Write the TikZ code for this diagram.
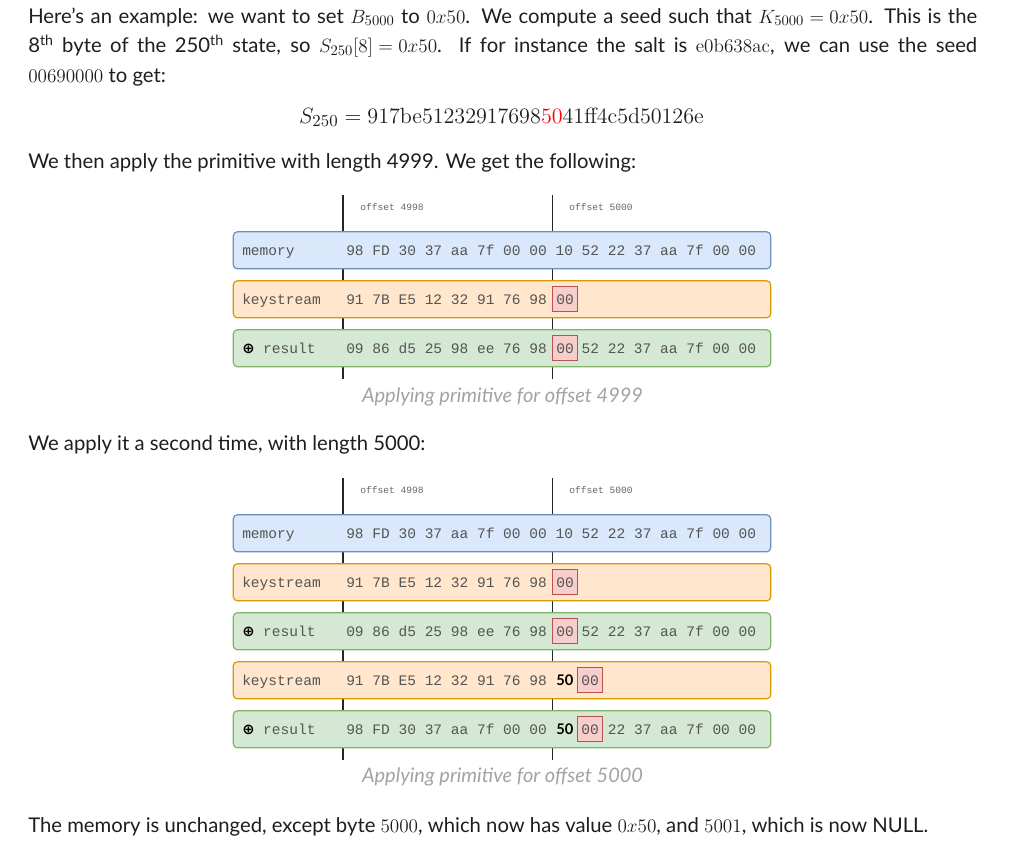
\documentclass[tikz,border=0pt]{standalone}
\usepackage[no-math]{fontspec}
\setmainfont{Lato}
\newfontfamily\hexfont{Liberation Mono}
\newfontfamily\symfont{DejaVu Sans}
\usepackage{xcolor}
\usepackage{tikz}
\definecolor{memfill}{HTML}{DAE8FC}
\definecolor{memline}{HTML}{6C8EBF}
\definecolor{keyfill}{HTML}{FFE6CC}
\definecolor{keyline}{HTML}{D79B00}
\definecolor{resfill}{HTML}{D5E8D4}
\definecolor{resline}{HTML}{82B366}
\definecolor{zerofill}{HTML}{F8CECC}
\definecolor{zeroline}{HTML}{B85450}
\definecolor{inktext}{HTML}{1E1E1E}
\definecolor{hexgray}{HTML}{555555}
\definecolor{capgray}{HTML}{A3A3A3}

\begin{document}
\begin{tikzpicture}[x=0.75pt, y=-0.75pt,
  membox/.style={rectangle, rounded corners=3pt, draw=memline, fill=memfill, line width=0.9pt, minimum width=403pt, minimum height=27.75pt, inner sep=0pt},
  keybox/.style={membox, draw=keyline, fill=keyfill},
  resbox/.style={membox, draw=resline, fill=resfill},
  zerobox/.style={rectangle, draw=zeroline, fill=zerofill, line width=0.8pt, minimum size=18.75pt, inner sep=0pt, font=\hexfont\fontsize{10.9}{12}\selectfont, text=hexgray},
  hex/.style={anchor=base west, inner sep=0pt, font=\hexfont\fontsize{10.9}{12}\selectfont, text=hexgray},
  boldhex/.style={anchor=base west, inner sep=0pt, font=\bfseries\fontsize{11}{12}\selectfont, text=black},
  offs/.style={anchor=west, inner sep=0pt, font=\hexfont\fontsize{7.2}{9}\selectfont, text=black!60},
  bar/.style={line width=1.1pt, draw=black!85},
  para/.style={anchor=base west, inner sep=0pt, font=\fontsize{15.2}{18}\selectfont, text=inktext},
  caption/.style={anchor=base, inner sep=0pt, font=\itshape\fontsize{15}{18}\selectfont, text=capgray}]
\fill[white] (0,0) rectangle (1032,850);
\useasboundingbox (0,0) rectangle (1032,850);

% Text above the first picture
\node[para] (intro1) at (28,23) {\makebox[711.75pt][s]{Here's an example: we want to set \mbox{$B_{5000}$} to \mbox{$0x50$}. We compute a seed such that \mbox{$K_{5000} = 0x50$}. This is the}};
\node[para] (intro2) at (28,52.5) {\makebox[711.75pt][s]{8\textsuperscript{th} byte of the 250\textsuperscript{th} state, so \mbox{$S_{250}[8] = 0x50$}. If for instance the salt is \mbox{$\mathrm{e0b638ac}$}, we can use the seed}};
\node[para] (intro3) at (28,82) {$\mathrm{00690000}$ to get:};
\node[para, anchor=base, scale=1.15] (state) at (501.5,123) {$S_{250} = \mathrm{917be51232917698}{\color{red}\mathrm{50}}\mathrm{41ff4c5d50126e}$};
\node[para] (then) at (28,168) {We then apply the primitive with length 4999. We get the following:};

% First picture: offset 4999
\coordinate (ltopA) at (343,195);
\coordinate (lbotA) at (343,379);
\coordinate (rtopA) at (552.7,195);
\coordinate (rbotA) at (552.7,379);
\draw[bar] (ltopA) -- (lbotA);
\draw[bar] (rtopA) -- (rbotA);
\node[offs] (offlA) at (360,207) {offset 4998};
\node[offs] (offrA) at (569,207) {offset 5000};

\node[membox] (memA) at (502,250.3) {};
\node[keybox] (keyA) at (502,299.3) {};
\node[resbox] (resA) at (502,348.3) {};

\node[hex] (memlblA) at (242,255) {memory};
\node[hex] (memhexA) at (346,255) {98~FD~30~37~aa~7f~00~00~10~52~22~37~aa~7f~00~00};
\node[hex] (keylblA) at (242,304) {keystream};
\node[hex] (keyhexA) at (346,304) {91~7B~E5~12~32~91~76~98};
\node[zerobox] (keyzeroA) at (565.2,299.3) {00};
\node[hex] (reslblA) at (242,353) {{\symfont\bfseries\fontsize{11}{11}\selectfont\color{black}⊕}\hspace{6.5pt}result};
\node[hex] (reshexA) at (346,353) {09~86~d5~25~98~ee~76~98};
\node[zerobox] (reszeroA) at (565.2,348.3) {00};
\node[hex] (resrestA) at (581.4,353) {52~22~37~aa~7f~00~00};

\node[caption] (capA) at (502.5,402) {Applying primitive for offset 4999};

\node[para] (second) at (28,450) {We apply it a second time, with length 5000:};

% Second picture: offset 5000
\coordinate (ltopB) at (343,478);
\coordinate (lbotB) at (343,760);
\coordinate (rtopB) at (552.7,478);
\coordinate (rbotB) at (552.7,760);
\draw[bar] (ltopB) -- (lbotB);
\draw[bar] (rtopB) -- (rbotB);
\node[offs] (offlB) at (360,490) {offset 4998};
\node[offs] (offrB) at (569,490) {offset 5000};

\node[membox] (memB) at (502,533.3) {};
\node[keybox] (keyB) at (502,582.3) {};
\node[resbox] (resB) at (502,631.3) {};
\node[keybox] (keyC) at (502,680.3) {};
\node[resbox] (resC) at (502,729.3) {};

\node[hex] (memlblB) at (242,538) {memory};
\node[hex] (memhexB) at (346,538) {98~FD~30~37~aa~7f~00~00~10~52~22~37~aa~7f~00~00};
\node[hex] (keylblB) at (242,587) {keystream};
\node[hex] (keyhexB) at (346,587) {91~7B~E5~12~32~91~76~98};
\node[zerobox] (keyzeroB) at (565.2,582.3) {00};
\node[hex] (reslblB) at (242,636) {{\symfont\bfseries\fontsize{11}{11}\selectfont\color{black}⊕}\hspace{6.5pt}result};
\node[hex] (reshexB) at (346,636) {09~86~d5~25~98~ee~76~98};
\node[zerobox] (reszeroB) at (565.2,631.3) {00};
\node[hex] (resrestB) at (581.4,636) {52~22~37~aa~7f~00~00};

% second pass, with the chosen byte
\node[hex] (keylblC) at (242,685) {keystream};
\node[hex] (keyhexC) at (346,685) {91~7B~E5~12~32~91~76~98};
\node[boldhex] (keyfiftyC) at (556,685) {50};
\node[zerobox] (keyzeroC) at (590.2,680.3) {00};
\node[hex] (reslblC) at (242,734) {{\symfont\bfseries\fontsize{11}{11}\selectfont\color{black}⊕}\hspace{6.5pt}result};
\node[hex] (reshexC) at (346,734) {98~FD~30~37~aa~7f~00~00};
\node[boldhex] (resfiftyC) at (556,734) {50};
\node[zerobox] (reszeroC) at (590.2,729.3) {00};
\node[hex] (resrestC) at (607.6,734) {22~37~aa~7f~00~00};

\node[caption] (capB) at (502.5,782) {Applying primitive for offset 5000};

\node[para] (closing) at (28,832) {The memory is unchanged, except byte $5000$, which now has value $0x50$, and $5001$, which is now NULL.};
\end{tikzpicture}
\end{document}
